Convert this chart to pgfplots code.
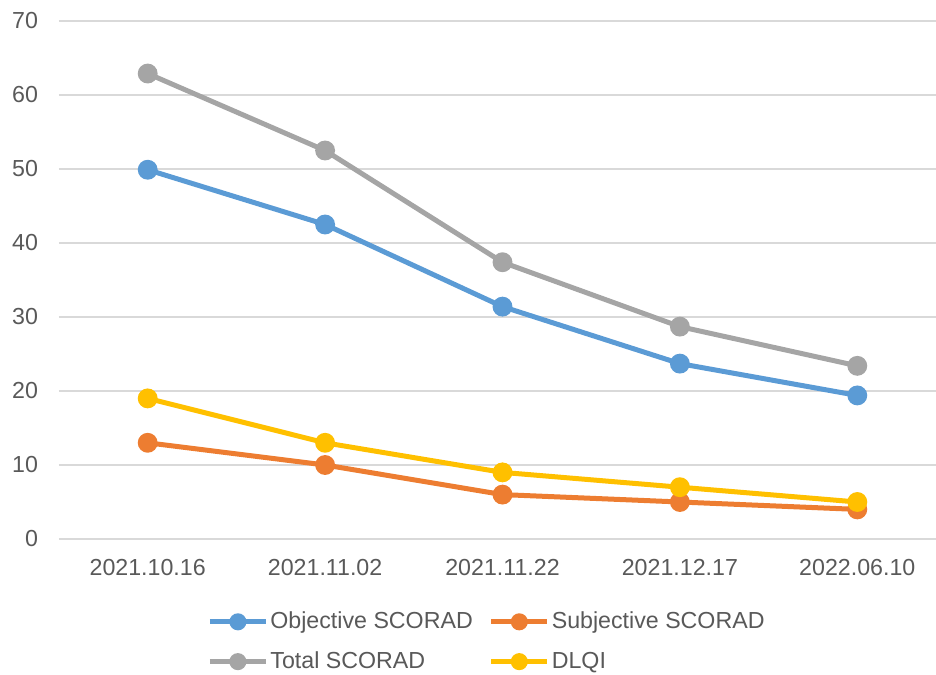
\documentclass[border=0pt]{standalone}
\usepackage{fontspec}
\setmainfont{Liberation Sans}
\usepackage{pgfplots}
\pgfplotsset{compat=1.18}
\definecolor{cblue}{HTML}{5B9BD5}
\definecolor{corange}{HTML}{ED7D31}
\definecolor{cgray}{HTML}{A5A5A5}
\definecolor{cyellow}{HTML}{FFC000}
\definecolor{cgrid}{HTML}{D9D9D9}
\definecolor{ctext}{HTML}{595959}
\begin{document}
\begin{tikzpicture}
\begin{axis}[
  name=ax,
  scale only axis,
  width=443.5pt, height=259pt,
  xmin=-0.5, xmax=4.5, ymin=0, ymax=70,
  ytick distance=10,
  xtick={0,1,2,3,4},
  xticklabels={2021.10.16,2021.11.02,2021.11.22,2021.12.17,2022.06.10},
  ymajorgrids, grid style={cgrid, line width=0.8pt},
  axis line style={draw=none},
  major tick length=0pt,
  tick label style={font=\fontsize{11.6}{13}\selectfont, text=ctext},
  /pgf/number format/assume math mode=true,
  yticklabel style={xshift=-7pt},
  xticklabel style={yshift=-6.5pt},
  every axis plot/.append style={line width=2.5pt, mark=*, mark size=3.7pt, mark options={solid, line width=0.5pt}},
  legend columns=2,
  legend cell align=left,
  legend style={draw=none, at={(0.4825,-0.14)}, anchor=north,
    font=\fontsize{11.6}{13}\selectfont, text=ctext,
    /tikz/every even column/.append style={column sep=7pt},
    nodes={inner xsep=1pt, inner ysep=0pt},
    row sep=10pt, inner sep=0pt},
  legend image code/.code={\draw[#1, mark size=3pt, mark repeat=2, mark phase=2] plot coordinates {(0pt,0pt) (14pt,0pt) (28pt,0pt)};},
]
\addplot[cblue, mark options={fill=cblue, draw=cblue}] coordinates {(0,49.9) (1,42.5) (2,31.4) (3,23.7) (4,19.4)};
\addlegendentry{Objective SCORAD}
\addplot[corange, mark options={fill=corange, draw=corange}] coordinates {(0,13) (1,10) (2,6) (3,5) (4,4)};
\addlegendentry{Subjective SCORAD}
\addplot[cgray, mark options={fill=cgray, draw=cgray}] coordinates {(0,62.9) (1,52.5) (2,37.4) (3,28.7) (4,23.4)};
\addlegendentry{Total SCORAD}
\addplot[cyellow, mark options={fill=cyellow, draw=cyellow}] coordinates {(0,19) (1,13) (2,9) (3,7) (4,5)};
\addlegendentry{DLQI}
\end{axis}
\pgfresetboundingbox
\path ([xshift=-29.5pt,yshift=-67.5pt]ax.south west) rectangle ([xshift=438.5pt,yshift=10.5pt]ax.north west);
\end{tikzpicture}
\end{document}
